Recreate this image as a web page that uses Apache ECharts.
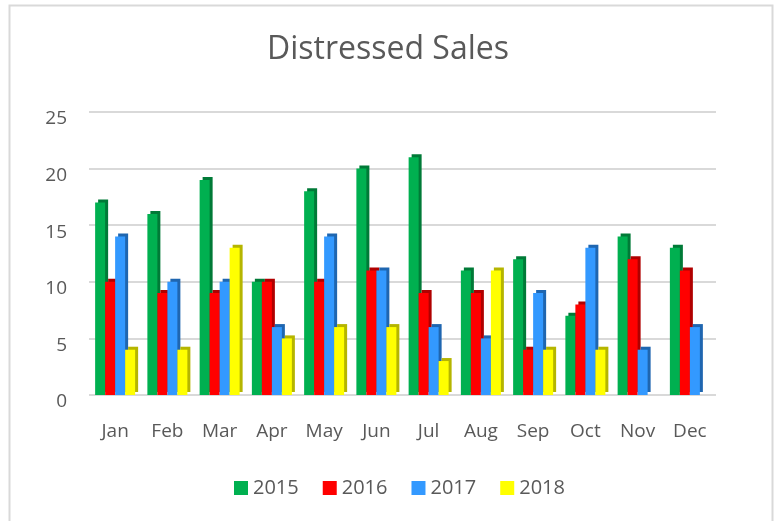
<!DOCTYPE html>
<html>
<head>
<meta charset="utf-8">
<script src="https://cdn.jsdelivr.net/npm/echarts@6/dist/echarts.min.js"></script>
<style>
  html, body { margin: 0; padding: 0; background: #fff; }
  #main { width: 776px; height: 521px; }
</style>
</head>
<body>
<div id="main"></div>
<script>
// data
const months = ["Jan", "Feb", "Mar", "Apr", "May", "Jun", "Jul", "Aug", "Sep", "Oct", "Nov", "Dec"];
const years = ["2015", "2016", "2017", "2018"];
const sales2015 = [17, 16, 19, 10, 18, 20, 21, 11, 12, 7, 14, 13];
const sales2016 = [10, 9, 9, 10, 10, 11, 9, 9, 4, 8, 12, 11];
const sales2017 = [14, 10, 10, 6, 14, 11, 6, 5, 9, 13, 4, 6];
const sales2018 = [4, 4, 13, 5, 6, 6, 3, 11, 4, 4, 0, 0];

const seriesData = [sales2015, sales2016, sales2017, sales2018];
const colors = ["#00b050", "#ff0000", "#3399ff", "#ffff00"];
// darker side colour, faked 3D with a hard shadow
const sideColors = ["#007a37", "#b00000", "#1f66b0", "#b5b500"];

const chart = echarts.init(document.getElementById("main"));
const font = "'Open Sans', sans-serif";

chart.setOption({
  backgroundColor: "#fff",
  animation: false,
  title: {
    text: "Distressed Sales",
    left: "center",
    top: 29,
    textStyle: { color: "#595959", fontSize: 32, fontWeight: "normal", fontFamily: font }
  },
  graphic: [
    {
      type: "rect",
      shape: { x: 9.5, y: 5.5, width: 763, height: 530 },
      style: { fill: null, stroke: "#d9d9d9", lineWidth: 2 },
      z: -1
    }
  ],
  legend: {
    data: years,
    bottom: 18,
    left: 229,
    itemWidth: 14,
    itemHeight: 14,
    itemGap: 24,
    icon: "rect",
    textStyle: { color: "#595959", fontSize: 20, fontFamily: font }
  },
  grid: { left: 89, right: 60, top: 112, bottom: 126 },
  xAxis: {
    type: "category",
    data: months,
    axisLine: { show: false },
    axisTick: { show: false },
    axisLabel: { color: "#595959", fontSize: 19, fontFamily: font, margin: 27 }
  },
  yAxis: {
    type: "value",
    min: 0,
    max: 25,
    interval: 5,
    axisLine: { show: false },
    axisTick: { show: false },
    axisLabel: { color: "#595959", fontSize: 19, fontFamily: font, margin: 22, verticalAlign: "top", lineHeight: 14 },
    splitLine: { lineStyle: { color: "#d9d9d9", width: 2 } }
  },
  series: years.map((y, i) => ({
    name: y,
    type: "bar",
    data: seriesData[i],
    barWidth: 10,
    barGap: "0%",
    itemStyle: {
      color: colors[i],
      shadowColor: sideColors[i],
      shadowOffsetX: 3,
      shadowOffsetY: -3,
      shadowBlur: 0
    }
  }))
});
</script>
</body>
</html>
